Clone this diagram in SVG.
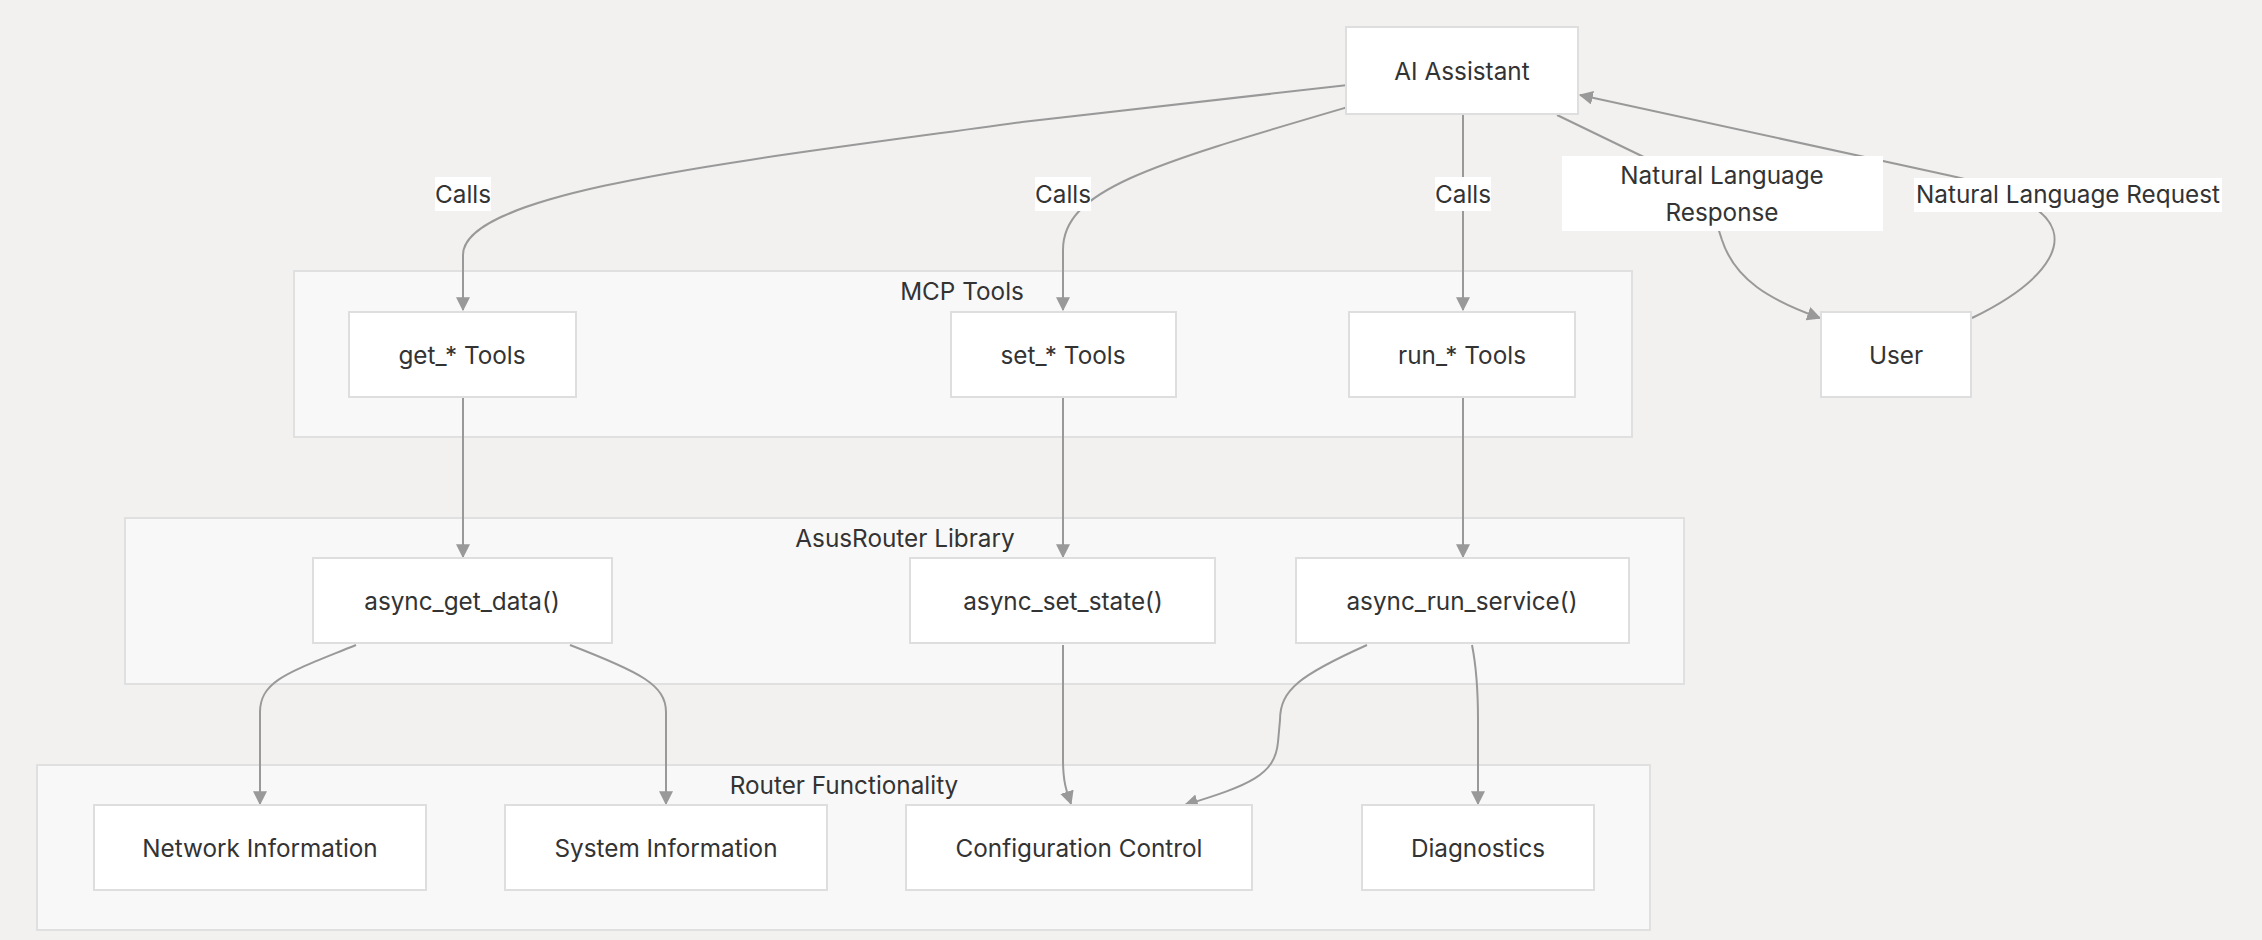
<svg xmlns="http://www.w3.org/2000/svg" width="2262" height="940" viewBox="0 0 2262 940">
<style>
.bg{fill:#f2f1ef}
.cluster{fill:#f8f8f8;stroke:#e0e0e0;stroke-width:2}
.node{fill:#ffffff;stroke:#dedede;stroke-width:2}
.t{font-family:Inter,"Liberation Sans",sans-serif;font-size:24.3px;fill:#333333;text-anchor:middle;dominant-baseline:central}
.edge{fill:none;stroke:#999999;stroke-width:2}
.lbl{fill:#ffffff}
</style>
<defs>
<marker id="arrow" viewBox="0 0 12 12" refX="11" refY="6" markerWidth="14" markerHeight="14" markerUnits="userSpaceOnUse" orient="auto">
<path d="M0,0 L12,6 L0,12 z" fill="#999999"/>
</marker>
</defs>
<rect class="bg" x="0" y="0" width="2262" height="940"/>

<g id="cluster-mcp">
<rect class="cluster" x="294" y="271" width="1338" height="166"/>
<text class="t" x="962" y="291">MCP Tools</text>
</g>
<g id="cluster-lib">
<rect class="cluster" x="125" y="518" width="1559" height="166"/>
<text class="t" x="905" y="538">AsusRouter Library</text>
</g>
<g id="cluster-router">
<rect class="cluster" x="37" y="765" width="1613" height="165"/>
<text class="t" x="844" y="785">Router Functionality</text>
</g>

<g id="connectors">
<path class="edge" d="M1348,85 L1022,122 C750,160 463,190 463,255 L463,310" marker-end="url(#arrow)"/>
<path class="edge" d="M1348,107 C1150,165 1063,190 1063,250 L1063,310" marker-end="url(#arrow)"/>
<path class="edge" d="M1463,114 L1463,310" marker-end="url(#arrow)"/>
<path class="edge" d="M1557,115 L1650,160 C1700,185 1715,215 1722,240 C1735,280 1770,300 1820,318" marker-end="url(#arrow)"/>
<path class="edge" d="M1972,318 C2050,280 2080,235 2030,205 C2000,185 1960,178 1938,173 L1580,95" marker-end="url(#arrow)"/>
<path class="edge" d="M463,397 L463,557" marker-end="url(#arrow)"/>
<path class="edge" d="M1063,397 L1063,557" marker-end="url(#arrow)"/>
<path class="edge" d="M1463,397 L1463,557" marker-end="url(#arrow)"/>
<path class="edge" d="M356,645 C290,672 260,680 260,712 L260,804" marker-end="url(#arrow)"/>
<path class="edge" d="M570,645 C640,672 666,685 666,712 L666,804" marker-end="url(#arrow)"/>
<path class="edge" d="M1063,645 L1063,760 C1063,785 1068,795 1071,804" marker-end="url(#arrow)"/>
<path class="edge" d="M1367,645 C1300,675 1280,690 1280,720 L1278,742 C1275,775 1250,785 1185,805" marker-end="url(#arrow)"/>
<path class="edge" d="M1472,645 C1477,670 1478,690 1478,720 L1478,804" marker-end="url(#arrow)"/>
<g id="edge-labels">
<rect class="lbl" x="435" y="177" width="56" height="34"/>
<text class="t" x="463" y="194">Calls</text>
<rect class="lbl" x="1035" y="177" width="56" height="34"/>
<text class="t" x="1063" y="194">Calls</text>
<rect class="lbl" x="1435" y="177" width="56" height="34"/>
<text class="t" x="1463" y="194">Calls</text>
<rect class="lbl" x="1562" y="156" width="321" height="75"/>
<text class="t" x="1722" y="175">Natural Language</text>
<text class="t" x="1722" y="212">Response</text>
<rect class="lbl" x="1914" y="178" width="308" height="34"/>
<text class="t" x="2068" y="194">Natural Language Request</text>
</g>
</g>

<g id="node-ai">
<rect class="node" x="1346" y="27" width="232" height="87"/>
<text class="t" x="1462" y="71">AI Assistant</text>
</g>
<g id="node-get">
<rect class="node" x="349" y="312" width="227" height="85"/>
<text class="t" x="462" y="355">get_* Tools</text>
</g>
<g id="node-set">
<rect class="node" x="951" y="312" width="225" height="85"/>
<text class="t" x="1063" y="355">set_* Tools</text>
</g>
<g id="node-run">
<rect class="node" x="1349" y="312" width="226" height="85"/>
<text class="t" x="1462" y="355">run_* Tools</text>
</g>
<g id="node-user">
<rect class="node" x="1821" y="312" width="150" height="85"/>
<text class="t" x="1896" y="355">User</text>
</g>
<g id="node-getdata">
<rect class="node" x="313" y="558" width="299" height="85"/>
<text class="t" x="462" y="601">async_get_data()</text>
</g>
<g id="node-setstate">
<rect class="node" x="910" y="558" width="305" height="85"/>
<text class="t" x="1063" y="601">async_set_state()</text>
</g>
<g id="node-runservice">
<rect class="node" x="1296" y="558" width="333" height="85"/>
<text class="t" x="1462" y="601">async_run_service()</text>
</g>
<g id="node-network">
<rect class="node" x="94" y="805" width="332" height="85"/>
<text class="t" x="260" y="848">Network Information</text>
</g>
<g id="node-system">
<rect class="node" x="505" y="805" width="322" height="85"/>
<text class="t" x="666" y="848">System Information</text>
</g>
<g id="node-config">
<rect class="node" x="906" y="805" width="346" height="85"/>
<text class="t" x="1079" y="848">Configuration Control</text>
</g>
<g id="node-diag">
<rect class="node" x="1362" y="805" width="232" height="85"/>
<text class="t" x="1478" y="848">Diagnostics</text>
</g>
</svg>
